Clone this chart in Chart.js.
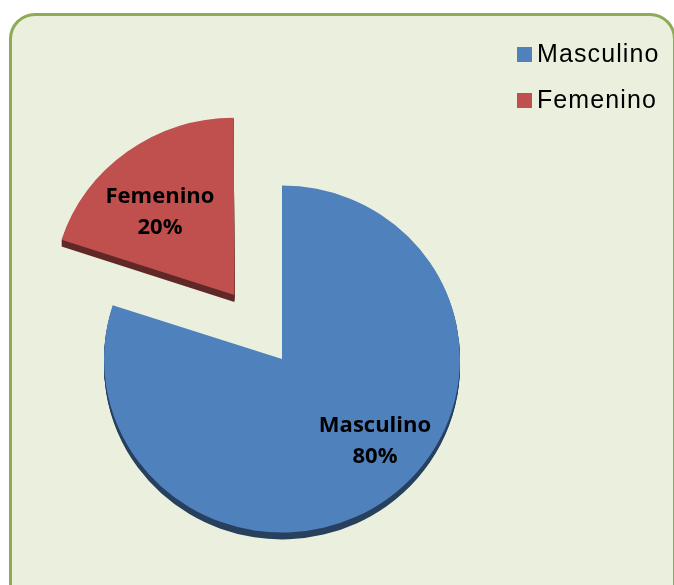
<!DOCTYPE html>
<html>
<head>
<meta charset="utf-8">
<script src="https://cdn.jsdelivr.net/npm/chart.js@4.4.0/dist/chart.umd.min.js"></script>
<style>
  html, body { margin: 0; padding: 0; background: #ffffff; }
  #wrap { position: relative; width: 674px; height: 585px; overflow: hidden; }
  #box {
    position: absolute; left: 9px; top: 13px; width: 661px; height: 620px;
    background: #ebf0de; border: 3px solid #8eab55; border-radius: 26px;
  }
  #chart { position: absolute; left: 0; top: 0; }
</style>
</head>
<body>
<div id="wrap">
  <div id="box"></div>
  <canvas id="chart" width="674" height="585"></canvas>
</div>
<script>
  /* ── data ── */
  const LABELS = ["Masculino", "Femenino"];
  const VALUES = [80, 20];
  const COLORS = ["#4f81bd", "#c0504d"];
  const OFFSETS = [0, 324];

  const SQUASH = 0.975; // slight vertical tilt, like the 3D pie

  /* ── 3D-ish depth: redraw the arcs shifted down and darkened ── */
  const depthPlugin = {
    id: "depth",
    beforeDatasetsDraw(chart) {
      const ctx = chart.ctx;
      const arcs = chart.getDatasetMeta(0).data;
      const cy = arcs[0].y;
      ctx.save();
      ctx.translate(0, cy);
      ctx.scale(1, SQUASH);
      ctx.translate(0, -cy);
      for (let d = 7; d >= 1; d--) {
        ctx.save();
        ctx.translate(0, d);
        ctx.filter = "brightness(0.5)";
        arcs.forEach(function (a) { a.draw(ctx); });
        ctx.restore();
      }
    },
    afterDatasetsDraw(chart) {
      chart.ctx.restore();
    }
  };

  /* ── slice labels: name + percent ── */
  const sliceLabels = {
    id: "sliceLabels",
    afterDatasetsDraw(chart, args, opts) {
      const ctx = chart.ctx;
      const arcs = chart.getDatasetMeta(0).data;
      const total = VALUES.reduce(function (s, v) { return s + v; }, 0);
      arcs.forEach(function (a, i) {
        const mid = (a.startAngle + a.endAngle) / 2;
        // same translation that ArcElement.draw applies for `offset`
        const circ = a.endAngle - a.startAngle;
        const off = (a.options.offset || 0) / 4;
        const fix = 1 - Math.sin(Math.min(Math.PI, circ));
        const shift = off * (1 + fix);
        const cx = a.x + Math.cos(mid) * shift;
        const cy = a.y + Math.sin(mid) * shift;
        const ang = mid + opts.angleShift[i] * Math.PI / 180;
        const r = a.outerRadius * opts.frac[i];
        const x = cx + Math.cos(ang) * r;
        const y = cy + Math.sin(ang) * r;
        ctx.save();
        ctx.fillStyle = "#000000";
        ctx.font = "bold 22px 'Open Sans'";
        ctx.textAlign = "center";
        ctx.textBaseline = "alphabetic";
        ctx.fillText(LABELS[i], x, y - 6);
        ctx.fillText(Math.round(VALUES[i] / total * 100) + "%", x, y + 25);
        ctx.restore();
      });
    }
  };

  /* ── legend, top right ── */
  const cornerLegend = {
    id: "cornerLegend",
    afterDraw(chart) {
      const ctx = chart.ctx;
      ctx.save();
      ctx.font = "25px 'Liberation Sans'";
      ctx.letterSpacing = "1.1px";
      ctx.textBaseline = "alphabetic";
      LABELS.forEach(function (lab, i) {
        const y = 47 + i * 46;
        ctx.fillStyle = COLORS[i];
        ctx.fillRect(517, y, 15, 15);
        ctx.fillStyle = "#000000";
        ctx.fillText(lab, 537, y + 15);
      });
      ctx.restore();
    }
  };

  new Chart(document.getElementById("chart").getContext("2d"), {
    type: "pie",
    data: {
      labels: LABELS,
      datasets: [{
        data: VALUES,
        backgroundColor: COLORS,
        borderWidth: 0,
        offset: OFFSETS,
        radius: 178,
      }],
    },
    options: {
      responsive: false,
      animation: false,
      events: [],
      layout: { padding: { left: 0, right: 110, top: 133, bottom: 0 } },
      plugins: {
        legend: { display: false },
        tooltip: { enabled: false },
        sliceLabels: { angleShift: [-13.7, -5.6], frac: [0.685, 0.61] },
      },
    },
    plugins: [depthPlugin, sliceLabels, cornerLegend],
  });
</script>
</body>
</html>
